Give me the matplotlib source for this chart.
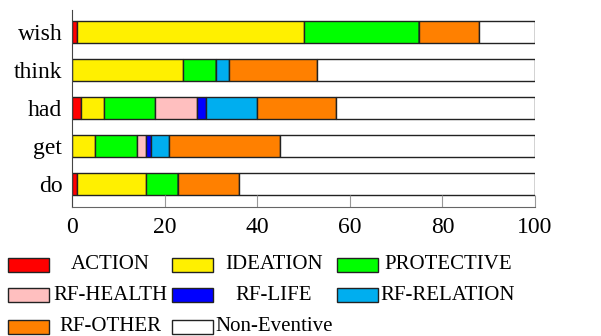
import numpy as np
import matplotlib
matplotlib.use("Agg")
import matplotlib.pyplot as plt
from matplotlib.patches import Rectangle

plt.rcParams['font.family'] = ['Liberation Serif', 'DejaVu Serif']

# data (percent of each verb)
verbs = ['do', 'get', 'had', 'think', 'wish']
categories = ['ACTION', 'IDEATION', 'PROTECTIVE', 'RF-HEALTH', 'RF-LIFE',
              'RF-RELATION', 'RF-OTHER', 'Non-Eventive']
action      = [1, 0, 2, 0, 1]
ideation    = [15, 5, 5, 24, 49]
protective  = [7, 9, 11, 7, 25]
rf_health   = [0, 2, 9, 0, 0]
rf_life     = [0, 1, 2, 0, 0]
rf_relation = [0, 4, 11, 3, 0]
rf_other    = [13, 24, 17, 19, 13]
non_event   = [64, 55, 43, 47, 12]
series = [action, ideation, protective, rf_health, rf_life,
          rf_relation, rf_other, non_event]
farben = ['#FF0000', '#FFF000', '#00FF00', '#FFBFBF', '#0000FF',
          '#00AEEF', '#FF8000', '#FFFFFF']

fig = plt.figure(figsize=(6.01, 3.36), dpi=100)
ax = fig.add_axes([72/601, 1-207/336, (535-72)/601, (207-10)/336])

y = np.arange(len(verbs))
links = np.zeros(len(verbs))
for werte, c in zip(series, farben):
    ax.barh(y, werte, left=links, height=0.58, color=c,
            edgecolor='#222222', linewidth=1.0)
    links += np.array(werte)

ax.set_xlim(0, 100)
ax.set_ylim(-0.6, 4.58)
ax.set_yticks(y)
ax.set_yticklabels(verbs, fontsize=17)
ax.set_xticks([0, 20, 40, 60, 80, 100])
ax.tick_params(axis='y', length=0, pad=7)
ax.tick_params(axis='x', direction='in', length=9, color='#999999',
               labelsize=17, pad=7)
ax.spines['top'].set_visible(False)
ax.spines['right'].set_visible(False)
ax.spines['left'].set_color('#444444')
ax.spines['bottom'].set_color('#666666')

# legend, drawn by hand (3 columns, centered text)
hand_x = [8, 172, 337]
text_x = [110, 274, 448]
row_y = [264.5, 295, 326.5]
for i, (name, c) in enumerate(zip(categories, farben)):
    r, k = divmod(i, 3)
    fig.patches.append(Rectangle((hand_x[k]/601, 1-(row_y[r]+7)/336),
                                 41/601, 14/336, transform=fig.transFigure,
                                 facecolor=c, edgecolor='#222222', linewidth=1.0))
    fig.text(text_x[k]/601, 1-row_y[r]/336, name, ha='center', va='center',
             fontsize=15)

fig.savefig('out.png', dpi=100)
